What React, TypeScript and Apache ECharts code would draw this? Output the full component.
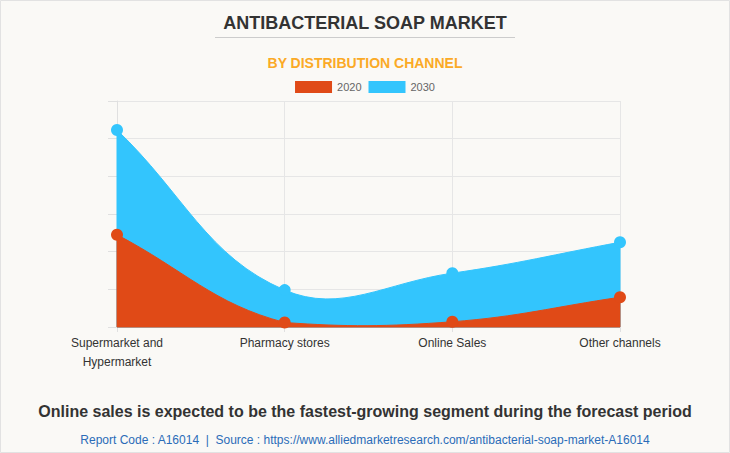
import React, { useEffect, useRef } from "react";
import * as echarts from "echarts";

const categories = ["Supermarket and\nHypermarket", "Pharmacy stores", "Online Sales", "Other channels"];
const values2020 = [24.5, 1.2, 1.4, 7.9];
const values2030 = [52.3, 9.8, 14.3, 22.5];
const seriesNames = ["2020", "2030"];
const colors = ["#e04a17", "#33c5fd"];

const TENSION = 0.4;
const Y_MIN = 0;
const Y_MAX = 60;
const Y_STEP = 10;

function areaRenderer(values: number[], color: string) {
  return (params: any, api: any) => {
    if (params.dataIndex !== 0) return null;
    const pts = values.map((v, i) => api.coord([i, v]));
    const base = api.coord([0, Y_MIN])[1];
    const top = api.coord([0, Y_MAX])[1];
    const left = api.coord([0, Y_MIN])[0];
    const right = api.coord([values.length - 1, Y_MIN])[0];
    const capX = (x: number) => Math.min(right, Math.max(left, x));
    const capY = (y: number) => Math.min(base, Math.max(top, y));
    const n = pts.length;
    const cps = pts.map((cur: number[], i: number) => {
      const prev = pts[Math.max(0, i - 1)];
      const next = pts[Math.min(n - 1, i + 1)];
      const d01 = Math.hypot(cur[0] - prev[0], cur[1] - prev[1]);
      const d12 = Math.hypot(next[0] - cur[0], next[1] - cur[1]);
      const tot = d01 + d12 || 1;
      const fa = (TENSION * d01) / tot;
      const fb = (TENSION * d12) / tot;
      return {
        prev: [capX(cur[0] - fa * (next[0] - prev[0])), capY(cur[1] - fa * (next[1] - prev[1]))],
        next: [capX(cur[0] + fb * (next[0] - prev[0])), capY(cur[1] + fb * (next[1] - prev[1]))],
      };
    });
    let d = `M${pts[0][0]},${base} L${pts[0][0]},${pts[0][1]}`;
    for (let i = 0; i < n - 1; i++) {
      const c1 = cps[i].next;
      const c2 = cps[i + 1].prev;
      const p = pts[i + 1];
      d += ` C${c1[0]},${c1[1]} ${c2[0]},${c2[1]} ${p[0]},${p[1]}`;
    }
    d += ` L${pts[n - 1][0]},${base} Z`;
    return {
      type: "path",
      shape: { pathData: d },
      style: { fill: color, stroke: color, lineWidth: 1 },
    };
  };
}

export default function App() {
  const ref = useRef<HTMLDivElement>(null);
  useEffect(() => {
    document.body.style.margin = "0";
    const chart = echarts.init(ref.current!, null, { renderer: "svg" });
    const font = "Liberation Sans, Arial, sans-serif";
    chart.setOption({
      animation: false,
      backgroundColor: "#faf9f6",
      textStyle: { fontFamily: font },
      title: [
        {
          text: "ANTIBACTERIAL SOAP MARKET",
          left: "center",
          top: 9,
          textStyle: { fontSize: 18, fontWeight: "bold", color: "#333333", fontFamily: font },
        },
        {
          text: "BY DISTRIBUTION CHANNEL",
          left: "center",
          top: 51,
          textStyle: { fontSize: 14, fontWeight: "bold", color: "#fbaa26", fontFamily: font },
        },
        {
          text: "Online sales is expected to be the fastest-growing segment during the forecast period",
          left: "center",
          top: 398,
          textStyle: { fontSize: 16, fontWeight: "bold", color: "#333333", fontFamily: font },
        },
        {
          text: "Report Code : A16014  |  Source : https://www.alliedmarketresearch.com/antibacterial-soap-market-A16014",
          left: "center",
          top: 429,
          textStyle: { fontSize: 12, fontWeight: "normal", color: "#2b6cb8", fontFamily: font },
        },
      ],
      graphic: [
        {
          type: "rect",
          shape: { x: 0.5, y: 0.5, width: 729, height: 452 },
          style: { fill: "none", stroke: "#e2e2e2", lineWidth: 1 },
          silent: true,
        },
        {
          type: "line",
          shape: { x1: 215, y1: 37.5, x2: 515, y2: 37.5 },
          style: { stroke: "#cccccc", lineWidth: 1 },
          silent: true,
        },
      ],
      legend: {
        top: 76,
        left: "center",
        icon: "rect",
        itemWidth: 37,
        itemHeight: 12,
        itemGap: 7,
        textStyle: { color: "#666666", fontSize: 11, fontFamily: font },
        data: seriesNames,
      },
      grid: { left: 117, right: 110, top: 101, bottom: 126 },
      xAxis: {
        type: "category",
        boundaryGap: false,
        data: categories,
        axisLine: { lineStyle: { color: "#e0e0e0" } },
        axisTick: { show: true, length: 5, lineStyle: { color: "#e0e0e0" } },
        splitLine: { show: true, lineStyle: { color: "#e6e6e6" } },
        axisLabel: { color: "#333333", fontSize: 12, margin: 6, lineHeight: 19, fontFamily: font },
      },
      yAxis: {
        type: "value",
        min: Y_MIN,
        max: Y_MAX,
        interval: Y_STEP,
        axisLabel: { show: false },
        axisLine: { show: true, lineStyle: { color: "#e0e0e0" } },
        axisTick: { show: true, length: 9, lineStyle: { color: "#e0e0e0" } },
        splitLine: { show: true, lineStyle: { color: "#e6e6e6" } },
      },
      series: [
        {
          name: seriesNames[1] + " area",
          type: "custom",
          z: 1,
          silent: true,
          data: values2030.map((v, i) => [i, v]),
          encode: { x: 0, y: 1 },
          renderItem: areaRenderer(values2030, colors[1]),
        },
        {
          name: seriesNames[1],
          type: "line",
          data: values2030,
          z: 2,
          symbol: "circle",
          symbolSize: 12,
          showSymbol: true,
          color: colors[1],
          itemStyle: { color: colors[1] },
          lineStyle: { color: colors[1], width: 0, opacity: 0 },
        },
        {
          name: seriesNames[0] + " area",
          type: "custom",
          z: 3,
          silent: true,
          data: values2020.map((v, i) => [i, v]),
          encode: { x: 0, y: 1 },
          renderItem: areaRenderer(values2020, colors[0]),
        },
        {
          name: seriesNames[0],
          type: "line",
          data: values2020,
          z: 4,
          symbol: "circle",
          symbolSize: 12,
          showSymbol: true,
          color: colors[0],
          itemStyle: { color: colors[0] },
          lineStyle: { color: colors[0], width: 0, opacity: 0 },
        },
      ],
    });
    return () => chart.dispose();
  }, []);
  return <div ref={ref} style={{ width: 730, height: 453 }} />;
}
